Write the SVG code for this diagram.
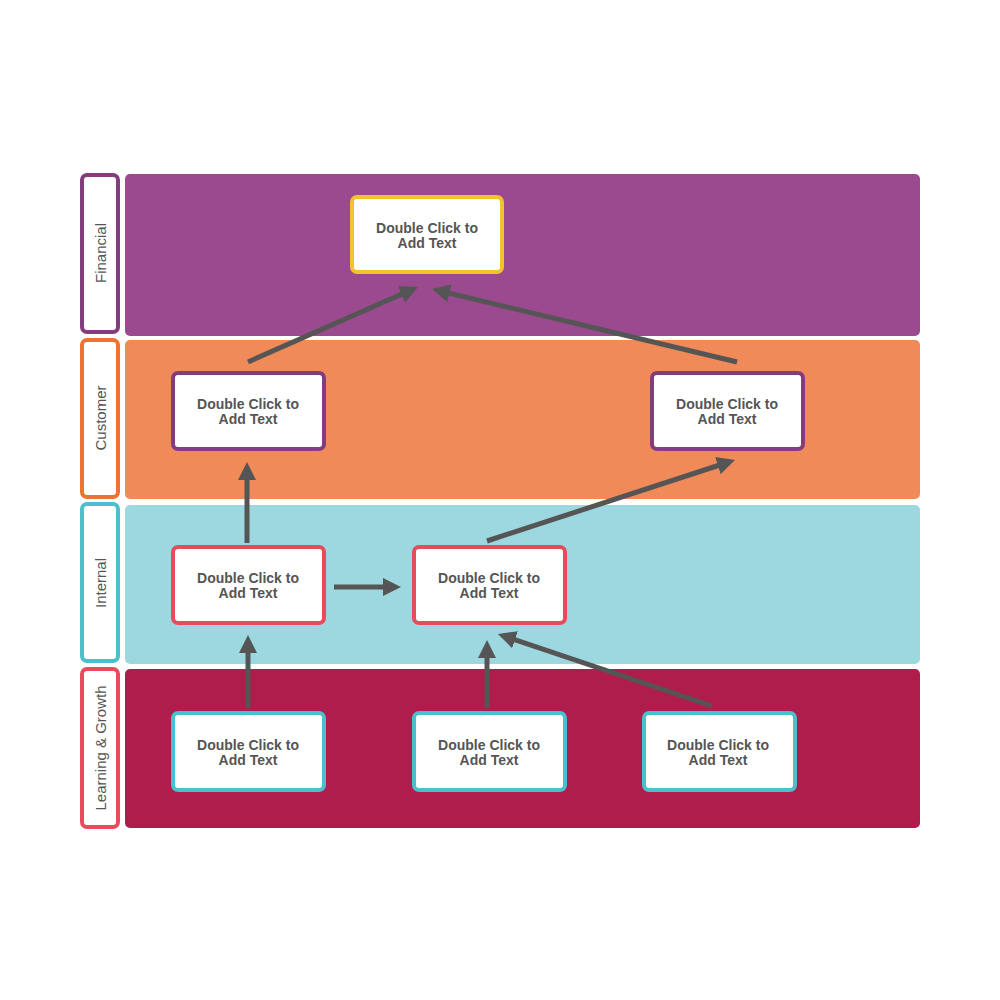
<svg xmlns="http://www.w3.org/2000/svg" width="1000" height="1000" viewBox="0 0 1000 1000">
<style>
.lane{stroke:none}
.lbl{fill:#fff;stroke-width:4}
.lt{font-family:"Liberation Sans",Arial,sans-serif;font-size:15px;fill:#555;text-anchor:middle;dominant-baseline:central}
.node{fill:#fff;stroke-width:4}
.nt{font-family:"Liberation Sans",Arial,sans-serif;font-size:14px;font-weight:bold;fill:#555;text-anchor:middle}
.conn{stroke:#555;stroke-width:5;fill:none;marker-end:url(#ah)}
</style>
<defs>
<marker id="ah" viewBox="0 0 10 10" markerWidth="3.6" markerHeight="3.6" refX="2" refY="5" orient="auto" markerUnits="strokeWidth">
<path d="M0,0 L10,5 L0,10 z" fill="#555"/>
</marker>
</defs>
<rect width="1000" height="1000" fill="#fff"/>
<g id="lanes">
<rect class="lane" x="125" y="174" width="795" height="162" rx="5" fill="#9B4A8F"/>
<rect class="lane" x="125" y="340" width="795" height="159" rx="5" fill="#F08A58"/>
<rect class="lane" x="125" y="505" width="795" height="159" rx="5" fill="#9DD8E0"/>
<rect class="lane" x="125" y="669" width="795" height="159" rx="5" fill="#AE1D4B"/>
</g>
<g id="lane-labels">
<g id="lbl-financial"><rect class="lbl" x="82" y="175" width="36" height="157" rx="5" stroke="#833C7E"/><text class="lt" transform="translate(100,253) rotate(-90)">Financial</text></g>
<g id="lbl-customer"><rect class="lbl" x="82" y="340" width="36" height="157" rx="5" stroke="#EE7232"/><text class="lt" transform="translate(100,418) rotate(-90)">Customer</text></g>
<g id="lbl-internal"><rect class="lbl" x="82" y="504" width="36" height="157" rx="5" stroke="#4BBFCB"/><text class="lt" transform="translate(100,583) rotate(-90)">Internal</text></g>
<g id="lbl-learning"><rect class="lbl" x="82" y="669" width="36" height="158" rx="5" stroke="#E84B5B"/><text class="lt" transform="translate(100,748) rotate(-90)">Learning &amp; Growth</text></g>
</g>
<g id="connectors">
<line class="conn" x1="248" y1="362" x2="404.8" y2="292.8"/>
<line class="conn" x1="737" y1="362" x2="446" y2="292.4"/>
<line class="conn" x1="247" y1="543" x2="247" y2="476.4"/>
<line class="conn" x1="334" y1="587" x2="386.6" y2="587"/>
<line class="conn" x1="487" y1="541" x2="721.3" y2="464.5"/>
<line class="conn" x1="248" y1="708" x2="248" y2="649.4"/>
<line class="conn" x1="487" y1="708" x2="487" y2="654.4"/>
<line class="conn" x1="712" y1="706" x2="511.6" y2="638.6"/>
</g>
<g id="n-fin"><rect class="node" x="352" y="197" width="150" height="75" rx="5" stroke="#F4C12F"/><text class="nt" x="427" y="233">Double Click to</text><text class="nt" x="427" y="248">Add Text</text></g>
<g id="n-cust1"><rect class="node" x="173" y="373" width="151" height="76" rx="5" stroke="#833C7E"/><text class="nt" x="248" y="409">Double Click to</text><text class="nt" x="248" y="424">Add Text</text></g>
<g id="n-cust2"><rect class="node" x="652" y="373" width="151" height="76" rx="5" stroke="#833C7E"/><text class="nt" x="727" y="409">Double Click to</text><text class="nt" x="727" y="424">Add Text</text></g>
<g id="n-int1"><rect class="node" x="173" y="547" width="151" height="76" rx="5" stroke="#E84B5B"/><text class="nt" x="248" y="583">Double Click to</text><text class="nt" x="248" y="598">Add Text</text></g>
<g id="n-int2"><rect class="node" x="414" y="547" width="151" height="76" rx="5" stroke="#E84B5B"/><text class="nt" x="489" y="583">Double Click to</text><text class="nt" x="489" y="598">Add Text</text></g>
<g id="n-lg1"><rect class="node" x="173" y="713" width="151" height="77" rx="5" stroke="#4BBFCB"/><text class="nt" x="248" y="750">Double Click to</text><text class="nt" x="248" y="765">Add Text</text></g>
<g id="n-lg2"><rect class="node" x="414" y="713" width="151" height="77" rx="5" stroke="#4BBFCB"/><text class="nt" x="489" y="750">Double Click to</text><text class="nt" x="489" y="765">Add Text</text></g>
<g id="n-lg3"><rect class="node" x="644" y="713" width="151" height="77" rx="5" stroke="#4BBFCB"/><text class="nt" x="718" y="750">Double Click to</text><text class="nt" x="718" y="765">Add Text</text></g>
</svg>
